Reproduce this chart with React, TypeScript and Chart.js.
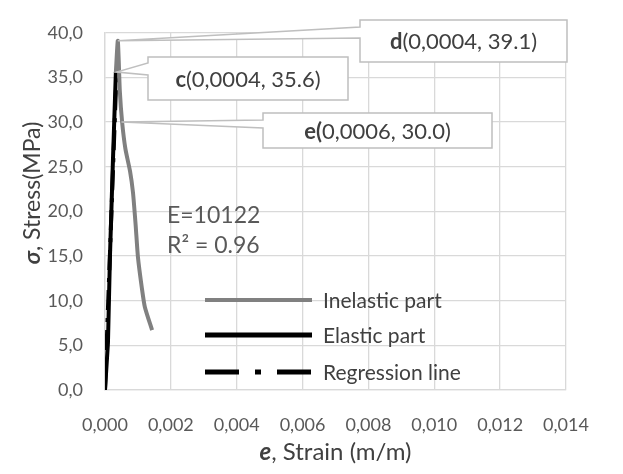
import React, { useEffect, useRef } from 'react';
import { Chart, registerables } from 'chart.js';
Chart.register(...registerables);

// ---- data ----
const elasticStrain = [0, 0.00009, 0.00015, 0.00024, 0.00033];
const elasticStress = [0, 5.3, 14.9, 25.6, 35.6];
const inelasticStrain = [0.00033, 0.00039, 0.00045, 0.00052, 0.00062, 0.00076, 0.00085, 0.00093, 0.001, 0.00112, 0.00121, 0.00143];
const inelasticStress = [35.6, 39.1, 33.5, 30.0, 27.0, 24.5, 22.1, 18.5, 14.9, 11.4, 9.3, 6.7];
const regressionStrain = [0, 0.00035];
const regressionStress = [0, 35.6];
const xTicks = [0, 0.002, 0.004, 0.006, 0.008, 0.01, 0.012, 0.014];
const yTicks = [0, 5, 10, 15, 20, 25, 30, 35, 40];
const seriesNames = ['Inelastic part', 'Elastic part', 'Regression line'];
const calloutBold = ['d', 'c', 'e('];
const calloutRest = ['(0,0004, 39.1)', '(0,0004, 35.6)', '0,0006, 30.0)'];
const calloutStrain = [0.00039, 0.00035, 0.0005];
const calloutStress = [39.1, 35.6, 30.0];
const modulusText = 'E=10122';
const r2Text = 'R² = 0.96';
const xTitleBold = 'e';
const xTitleRest = ', Strain (m/m)';
const yTitleBold = 'σ';
const yTitleRest = ', Stress(MPa)';

const FAM = 'Lato, "Open Sans", sans-serif';

// annotation box layout (pixels): [left, top, right, bottom, wedgeY1, wedgeY2]
const calloutBoxes = [
  [360, 20, 567, 62, 27, 38],
  [148, 57, 348, 100, 63, 75],
  [263, 113, 492, 148, 120, 128],
];

function toPts(xs: number[], ys: number[]) {
  return xs.map((x, i) => ({ x, y: ys[i] }));
}

function drawRich(ctx: CanvasRenderingContext2D, parts: { t: string; f: string }[], cx: number, cy: number) {
  let total = 0;
  for (const p of parts) { ctx.font = p.f; total += ctx.measureText(p.t).width; }
  let x = cx - total / 2;
  ctx.textAlign = 'left';
  ctx.textBaseline = 'middle';
  for (const p of parts) { ctx.font = p.f; ctx.fillText(p.t, x, cy); x += ctx.measureText(p.t).width; }
}

const overlay = {
  id: 'overlay',
  afterDatasetsDraw(chart: any) {
    const ctx: CanvasRenderingContext2D = chart.ctx;
    const xs = chart.scales.x, ys = chart.scales.y;
    ctx.save();
    // callouts
    calloutBoxes.forEach((b, i) => {
      const [l, t, r, bt, w1, w2] = b;
      const tx = xs.getPixelForValue(calloutStrain[i]);
      const ty = ys.getPixelForValue(calloutStress[i]);
      ctx.beginPath();
      ctx.moveTo(l, t); ctx.lineTo(r, t); ctx.lineTo(r, bt); ctx.lineTo(l, bt);
      ctx.lineTo(l, w2); ctx.lineTo(tx, ty); ctx.lineTo(l, w1); ctx.closePath();
      ctx.fillStyle = '#ffffff'; ctx.fill();
      ctx.strokeStyle = '#bfbfbf'; ctx.lineWidth = 1.5; ctx.stroke();
      ctx.fillStyle = '#404040';
      drawRich(ctx, [{ t: calloutBold[i], f: `bold 22px ${FAM}` }, { t: calloutRest[i], f: `22px ${FAM}` }], (l + r) / 2, (t + bt) / 2 + 1);
    });
    // E / R2
    ctx.fillStyle = '#595959';
    ctx.font = `23px ${FAM}`;
    ctx.textAlign = 'left'; ctx.textBaseline = 'middle';
    ctx.fillText(modulusText, 167, 216);
    ctx.fillText(r2Text, 167, 246);
    // legend
    const lx1 = 205, lx2 = 312;
    const ly = [300, 335, 372];
    ctx.lineCap = 'butt';
    ctx.strokeStyle = '#808080'; ctx.lineWidth = 4;
    ctx.beginPath(); ctx.moveTo(lx1, ly[0]); ctx.lineTo(lx2, ly[0]); ctx.stroke();
    ctx.strokeStyle = '#000000'; ctx.lineWidth = 5;
    ctx.beginPath(); ctx.moveTo(lx1, ly[1]); ctx.lineTo(lx2, ly[1]); ctx.stroke();
    ctx.setLineDash([34, 16, 6, 16]);
    ctx.beginPath(); ctx.moveTo(lx1, ly[2]); ctx.lineTo(lx2, ly[2]); ctx.stroke();
    ctx.setLineDash([]);
    ctx.fillStyle = '#404040';
    ctx.font = `21px ${FAM}`;
    seriesNames.forEach((n, i) => ctx.fillText(n, 323, ly[i] + 1));
    // axis titles
    ctx.fillStyle = '#404040';
    drawRich(ctx, [{ t: xTitleBold, f: `italic bold 24px ${FAM}` }, { t: xTitleRest, f: `24px ${FAM}` }], (chart.chartArea.left + chart.chartArea.right) / 2, 452);
    ctx.translate(33, 193);
    ctx.rotate(-Math.PI / 2);
    drawRich(ctx, [{ t: yTitleBold, f: `italic bold 23px ${FAM}` }, { t: yTitleRest, f: `23px ${FAM}` }], 0, 0);
    ctx.restore();
  },
};

export default function App() {
  const ref = useRef<HTMLCanvasElement>(null);
  useEffect(() => {
    document.body.style.margin = '0';
    const chart = new Chart(ref.current!, {
      type: 'scatter',
      data: {
        datasets: [
          { label: seriesNames[2], data: toPts(regressionStrain, regressionStress), showLine: true, borderColor: '#000', borderWidth: 4, borderDash: [20, 8, 4, 8], pointRadius: 0, order: 3 },
          { label: seriesNames[1], data: toPts(elasticStrain, elasticStress), showLine: true, borderColor: '#000', borderWidth: 4, pointRadius: 0, order: 2 },
          { label: seriesNames[0], data: toPts(inelasticStrain, inelasticStress), showLine: true, borderColor: '#808080', borderWidth: 4, pointRadius: 0, order: 1, tension: 0.2 },
        ],
      },
      options: {
        animation: false,
        responsive: false,
        layout: { padding: { left: 0, top: 15, right: 57, bottom: 0 } },
        plugins: { legend: { display: false }, tooltip: { enabled: false } },
        scales: {
          x: {
            type: 'linear', min: 0, max: 0.014,
            afterBuildTicks: (s: any) => { s.ticks = xTicks.map(v => ({ value: v })); },
            afterFit: (s: any) => { s.height = 84; },
            ticks: { color: '#595959', font: { family: FAM, size: 18 }, padding: 24, callback: (v: any) => Number(v).toFixed(3).replace('.', ',') },
            grid: { color: '#d9d9d9', lineWidth: 1.3, drawTicks: false },
            border: { color: '#d9d9d9', width: 1.3 },
          },
          y: {
            type: 'linear', min: 0, max: 40,
            afterBuildTicks: (s: any) => { s.ticks = yTicks.map(v => ({ value: v })); },
            afterFit: (s: any) => { s.width = 105; },
            ticks: { color: '#595959', font: { family: FAM, size: 18 }, padding: 22, callback: (v: any) => Number(v).toFixed(1).replace('.', ',') },
            grid: { color: '#d9d9d9', lineWidth: 1.3, drawTicks: false },
            border: { color: '#d9d9d9', width: 1.3 },
          },
        },
      },
      plugins: [overlay],
    });
    return () => chart.destroy();
  }, []);
  return (
    <div style={{ width: 623, height: 474, background: '#fff' }}>
      <canvas ref={ref} width={623} height={474} />
    </div>
  );
}
